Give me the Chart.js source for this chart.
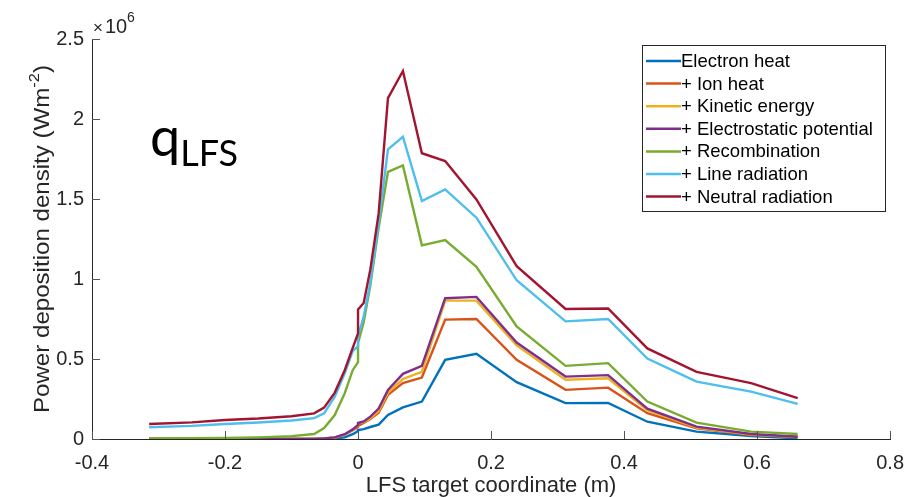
<!DOCTYPE html>
<html>
<head>
<meta charset="utf-8">
<script src="https://cdn.jsdelivr.net/npm/chart.js@4"></script>
<style>
  body { margin: 0; background: #fff; }
  #wrap { position: relative; width: 908px; height: 497px; }
  #qlabel { position: absolute; left: 150px; top: 103px; font-family: Lato, "Open Sans", sans-serif; color: #000; white-space: nowrap; }
  #qlabel .q { font-size: 54px; }
  #qlabel sub { font-size: 36px; vertical-align: -10px; }
</style>
</head>
<body>
<div id="wrap">
  <canvas id="myChart" width="908" height="497"></canvas>
  <div id="qlabel"><span class="q">q</span><sub>LFS</sub></div>
</div>
<script>
// LFS target coordinate (m); 0 appears twice (step at the separatrix)
var xCoord = [-0.314, -0.25, -0.2, -0.15, -0.1, -0.066, -0.051, -0.035, -0.02, -0.008, 0, 0,
  0.0085, 0.0185, 0.031, 0.045, 0.0675, 0.096, 0.131, 0.178, 0.2385, 0.312, 0.376, 0.435, 0.509, 0.591, 0.661];

// power deposition density, units of 1e6 W/m2
var electronHeat = [0, 0, 0, 0, 0, 0, 0.001, 0.003, 0.01, 0.03, 0.05, 0.056,
  0.062, 0.075, 0.09, 0.15, 0.198, 0.234, 0.495, 0.533, 0.355, 0.224, 0.226, 0.108, 0.046, 0.019, 0.004];
var ionHeat = [0, 0, 0, 0, 0, 0.001, 0.003, 0.008, 0.028, 0.055, 0.075, 0.081,
  0.1, 0.125, 0.165, 0.276, 0.349, 0.384, 0.746, 0.75, 0.495, 0.307, 0.321, 0.161, 0.067, 0.025, 0.014];
var kineticEnergy = [0, 0, 0, 0, 0, 0.001, 0.003, 0.009, 0.029, 0.058, 0.085, 0.098,
  0.105, 0.13, 0.175, 0.29, 0.375, 0.42, 0.865, 0.865, 0.585, 0.37, 0.38, 0.18, 0.072, 0.028, 0.012];
var electrostatic = [0, 0, 0, 0, 0, 0.001, 0.003, 0.01, 0.03, 0.06, 0.088, 0.1,
  0.11, 0.14, 0.19, 0.307, 0.407, 0.457, 0.88, 0.888, 0.603, 0.39, 0.399, 0.19, 0.077, 0.031, 0.014];
var recombination = [0.004, 0.005, 0.006, 0.01, 0.018, 0.031, 0.068, 0.15, 0.286, 0.43, 0.48, 0.6,
  0.73, 0.96, 1.32, 1.67, 1.71, 1.21, 1.243, 1.076, 0.704, 0.457, 0.474, 0.234, 0.102, 0.046, 0.031];
var lineRadiation = [0.073, 0.082, 0.094, 0.103, 0.116, 0.13, 0.16, 0.265, 0.41, 0.55, 0.58, 0.64,
  0.766, 0.976, 1.35, 1.81, 1.888, 1.487, 1.56, 1.383, 0.992, 0.735, 0.75, 0.503, 0.359, 0.296, 0.219];
var neutralRadiation = [0.094, 0.104, 0.119, 0.128, 0.142, 0.16, 0.196, 0.29, 0.43, 0.57, 0.66, 0.81,
  0.85, 1.06, 1.41, 2.13, 2.3, 1.786, 1.737, 1.497, 1.08, 0.813, 0.816, 0.566, 0.42, 0.349, 0.255];

var seriesNames = ['Electron heat', '+ Ion heat', '+ Kinetic energy', '+ Electrostatic potential',
  '+ Recombination', '+ Line radiation', '+ Neutral radiation'];
var seriesData = [electronHeat, ionHeat, kineticEnergy, electrostatic, recombination, lineRadiation, neutralRadiation];
var colors = ['#0072BD', '#D95319', '#EDB120', '#7E2F8E', '#77AC30', '#4DBEEE', '#A2142F'];

var yTicks = [0, 0.5, 1, 1.5, 2, 2.5];
var xTicks = [-0.4, -0.2, 0, 0.2, 0.4, 0.6, 0.8];

var datasets = [];
for (let i = 0; i < seriesData.length; i++) {
  let pts = [];
  for (let j = 0; j < xCoord.length; j++) {
    pts.push({x: xCoord[j], y: seriesData[i][j] * 1e6});
  }
  datasets.push({
    label: seriesNames[i],
    data: pts,
    borderColor: colors[i],
    backgroundColor: colors[i],
    borderWidth: 2.4,
    pointRadius: 0,
    tension: 0,
    order: seriesData.length - i // later series drawn on top
  });
}

var axisColor = '#262626';
var fontFam = '"Liberation Sans", Arial, sans-serif';

// inward ticks, y title, x10^6 marker and the boxed legend
var extras = {
  id: 'extras',
  afterDraw(chart) {
    const ctx = chart.ctx;
    const a = chart.chartArea;
    const xs = chart.scales.x, ys = chart.scales.y;
    ctx.save();
    ctx.strokeStyle = '#555';
    ctx.lineWidth = 1;
    ctx.beginPath();
    xTicks.forEach(v => {
      let px = Math.round(xs.getPixelForValue(v)) + 0.5;
      ctx.moveTo(px, a.bottom); ctx.lineTo(px, a.bottom - 8);
    });
    yTicks.forEach(v => {
      let py = Math.round(ys.getPixelForValue(v * 1e6)) + 0.5;
      ctx.moveTo(a.left, py); ctx.lineTo(a.left + 8, py);
    });
    ctx.stroke();

    // y axis title (stretched along its length like the original)
    ctx.save();
    ctx.fillStyle = axisColor;
    ctx.textBaseline = 'alphabetic';
    ctx.translate(49, (a.top + a.bottom) / 2);
    ctx.rotate(-Math.PI / 2);
    const mainTxt = 'Power deposition density (Wm', supTxt = '-2', endTxt = ')';
    ctx.font = '22px ' + fontFam;
    const w1 = ctx.measureText(mainTxt).width, w3 = ctx.measureText(endTxt).width;
    ctx.font = '15px ' + fontFam;
    const w2 = ctx.measureText(supTxt).width;
    const total = w1 + w2 + w3;
    ctx.scale(348 / total, 1);
    let x0 = -total / 2;
    ctx.font = '22px ' + fontFam;
    ctx.fillText(mainTxt, x0, 0);
    ctx.font = '15px ' + fontFam;
    ctx.fillText(supTxt, x0 + w1, -10);
    ctx.font = '22px ' + fontFam;
    ctx.fillText(endTxt, x0 + w1 + w2, 0);
    ctx.restore();

    ctx.fillStyle = axisColor;
    ctx.textBaseline = 'alphabetic';
    ctx.font = '17px ' + fontFam;
    ctx.fillText('\u00d7', a.left + 1, a.top - 6);
    ctx.font = '20px ' + fontFam;
    ctx.fillText('10', a.left + 13, a.top - 6);
    ctx.font = '14px ' + fontFam;
    ctx.fillText('6', a.left + 35, a.top - 17);

    // legend
    const bx = 642, by = 45, bw = 243, bh = 166;
    ctx.fillStyle = '#fff';
    ctx.fillRect(bx, by, bw, bh);
    ctx.strokeStyle = '#262626';
    ctx.strokeRect(bx + 0.5, by + 0.5, bw, bh);
    ctx.font = '18.5px ' + fontFam;
    ctx.textBaseline = 'middle';
    chart.data.datasets.forEach((ds, i) => {
      let y = by + 16 + i * 22.6;
      ctx.strokeStyle = ds.borderColor;
      ctx.lineWidth = 2.5;
      ctx.beginPath();
      ctx.moveTo(bx + 4, y); ctx.lineTo(bx + 39, y);
      ctx.stroke();
      ctx.fillStyle = '#000';
      ctx.fillText(ds.label, bx + 39, y + 1);
    });
    ctx.restore();
  }
};

var ctx = document.getElementById('myChart');
var myChart = new Chart(ctx, {
  type: 'line',
  data: { datasets: datasets },
  options: {
    responsive: false,
    animation: false,
    layout: { padding: { left: 0, top: 39, right: 14, bottom: 0 } },
    plugins: { legend: { display: false }, tooltip: { enabled: false } },
    scales: {
      x: {
        type: 'linear',
        min: -0.4, max: 0.8,
        afterBuildTicks: s => { s.ticks = xTicks.map(v => ({value: v})); },
        afterFit: s => { s.height = 58; },
        grid: { display: false },
        border: { display: true, color: axisColor, width: 1 },
        ticks: {
          padding: 4,
          color: axisColor,
          font: { size: 20, family: fontFam },
          maxRotation: 0,
          callback: v => String(+v.toFixed(1))
        },
        title: {
          display: true,
          text: 'LFS target coordinate (m)',
          color: axisColor,
          font: { size: 22, family: fontFam },
          padding: { top: 0, bottom: -2 }
        }
      },
      y: {
        type: 'linear',
        min: 0, max: 2.5e6,
        afterBuildTicks: s => { s.ticks = yTicks.map(v => ({value: v * 1e6})); },
        afterFit: s => { s.width = 92; },
        grid: { display: false },
        border: { display: true, color: axisColor, width: 1 },
        ticks: {
          padding: 0,
          color: axisColor,
          font: { size: 20, family: fontFam },
          callback: v => String(+(v / 1e6).toFixed(1))
        },
        title: { display: false }
      }
    }
  },
  plugins: [extras]
});
</script>
</body>
</html>
